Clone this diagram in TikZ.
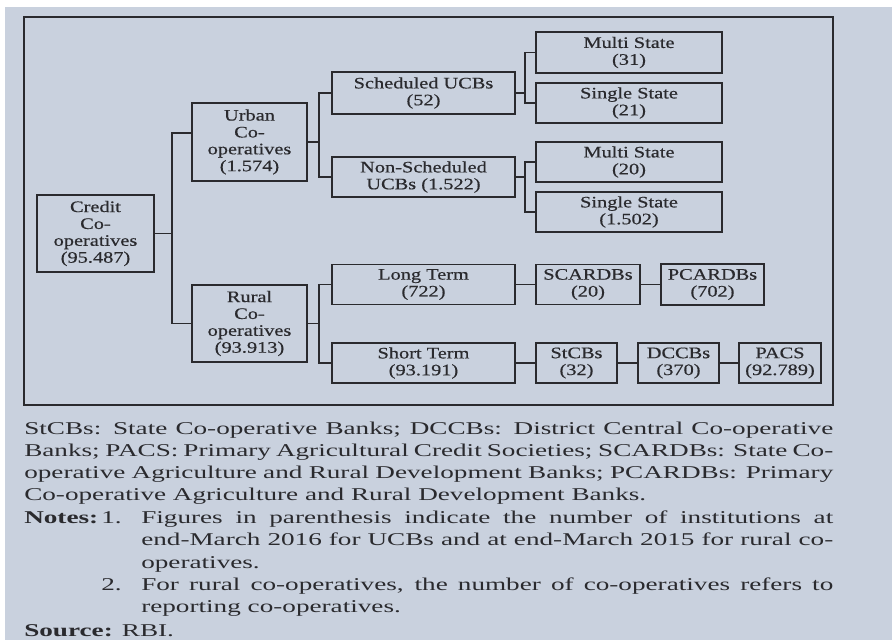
\documentclass[tikz,border=0pt]{standalone}
\usepackage{fontspec}
\setmainfont{Liberation Serif}[FakeStretch=1.51]
\newfontfamily\boxfont{Liberation Serif}[FakeStretch=1.27, FakeBold=0.5]
\usetikzlibrary{positioning}

\definecolor{panelbg}{RGB}{201,209,222}
\definecolor{ink}{RGB}{42,42,46}
\newlength{\unitpx}
\setlength{\unitpx}{0.025cm}

\begin{document}
\begin{tikzpicture}[x=0.025cm, y=-0.025cm,
  box/.style={draw=ink, line width=1.2pt, inner sep=0pt, align=center, text=ink,
    font=\boxfont\fontsize{11.4}{12}\selectfont},
  link/.style={draw=ink, line width=1.2pt},
  note/.style={inner sep=0pt, text=ink, anchor=base west,
    font=\fontsize{12.8}{15.86}\selectfont}]

% Panel
\useasboundingbox (0,0) rectangle (892,640);
\fill[white] (0,0) rectangle (892,640);
\fill[panelbg] (5,7) rectangle (892,640);
\draw[ink, line width=1.2pt] (24,17) rectangle (833,405);

% Root
\node[box, minimum width=117\unitpx, minimum height=77\unitpx] (credit) at (95.5,233.5) {Credit\\Co-\\operatives\\(95.487)};

% Urban branch
\node[box, minimum width=115\unitpx, minimum height=78\unitpx] (urban) at (249.5,142) {Urban\\Co-\\operatives\\(1.574)};
\node[box, minimum width=183\unitpx, minimum height=42\unitpx] (sched) at (423.5,93) {Scheduled UCBs\\(52)};
\node[box, minimum width=183\unitpx, minimum height=40\unitpx] (nonsched) at (423.5,177) {Non-Scheduled\\UCBs (1.522)};
\node[box, minimum width=186\unitpx, minimum height=41\unitpx] (multia) at (629,52.5) {Multi State\\(31)};
\node[box, minimum width=186\unitpx, minimum height=40\unitpx] (singlea) at (629,103) {Single State\\(21)};
\node[box, minimum width=186\unitpx, minimum height=40\unitpx] (multib) at (629,162) {Multi State\\(20)};
\node[box, minimum width=186\unitpx, minimum height=40\unitpx] (singleb) at (629,212) {Single State\\(1.502)};

% Rural branch
\node[box, minimum width=115\unitpx, minimum height=77\unitpx] (rural) at (249.5,323.5) {Rural\\Co-\\operatives\\(93.913)};
\node[box, minimum width=183\unitpx, minimum height=40\unitpx] (longterm) at (423.5,284.5) {Long Term\\(722)};
\node[box, minimum width=183\unitpx, minimum height=40\unitpx] (shortterm) at (423.5,363) {Short Term\\(93.191)};
\node[box, minimum width=104\unitpx, minimum height=40\unitpx] (scardb) at (588,284.5) {SCARDBs\\(20)};
\node[box, minimum width=103\unitpx, minimum height=41\unitpx] (pcardb) at (712.5,284.5) {PCARDBs\\(702)};
\node[box, minimum width=81\unitpx, minimum height=40\unitpx] (stcb) at (576.5,363) {StCBs\\(32)};
\node[box, minimum width=81\unitpx, minimum height=40\unitpx] (dccb) at (678.5,363) {DCCBs\\(370)};
\node[box, minimum width=82\unitpx, minimum height=40\unitpx] (pacs) at (780,363) {PACS\\(92.789)};

% Forks
\coordinate (jcredit) at (172,233.5);
\coordinate (jurban) at (319,142);
\coordinate (jsched) at (525,93);
\coordinate (jnonsched) at (525,177);
\coordinate (jrural) at (319,323.5);

\draw[link] (credit.east) -- (jcredit);
\draw[link] ([yshift=9\unitpx]urban.west) -| (jcredit) |- (rural.west);
\draw[link] (urban.east) -- (jurban);
\draw[link] (sched.west) -| (jurban) |- (nonsched.west);
\draw[link] (sched.east) -- (jsched);
\draw[link] (multia.west) -| (jsched) |- (singlea.west);
\draw[link] (nonsched.east) -- (jnonsched);
\draw[link] (multib.west) -| (jnonsched) |- (singleb.west);
\draw[link] (rural.east) -- (jrural);
\draw[link] (longterm.west) -| (jrural) |- (shortterm.west);

% Chains
\draw[link] (longterm) -- (scardb);
\draw[link] (scardb) -- (pcardb);
\draw[link] (shortterm) -- (stcb);
\draw[link] (stcb) -- (dccb);
\draw[link] (dccb) -- (pacs);

% Notes below the chart
\node[note, text width=809\unitpx, align=justify] (abbrev) at (24,434) {StCBs: State Co-operative Banks; DCCBs: District Central Co-operative\linebreak
Banks; PACS: Primary Agricultural Credit Societies; SCARDBs: State Co-\linebreak
operative Agriculture and Rural Development Banks; PCARDBs: Primary\linebreak
Co-operative Agriculture and Rural Development Banks.};
\node[note] (noteslabel) at (24,523.5) {\bfseries Notes:};
\node[note] (num1) at (101,523.5) {1.};
\node[note, text width=692\unitpx, align=justify] (note1) at (141,523.5) {Figures in parenthesis indicate the number of institutions at\linebreak
end-March 2016 for UCBs and at end-March 2015 for rural co-\linebreak
operatives.};
\node[note] (num2) at (101,590.5) {2.};
\node[note, text width=692\unitpx, align=justify] (note2) at (141,590.5) {For rural co-operatives, the number of co-operatives refers to\linebreak
reporting co-operatives.};
\node[note] (source) at (24,636) {\bfseries Source: \mdseries RBI.};

\end{tikzpicture}
\end{document}
